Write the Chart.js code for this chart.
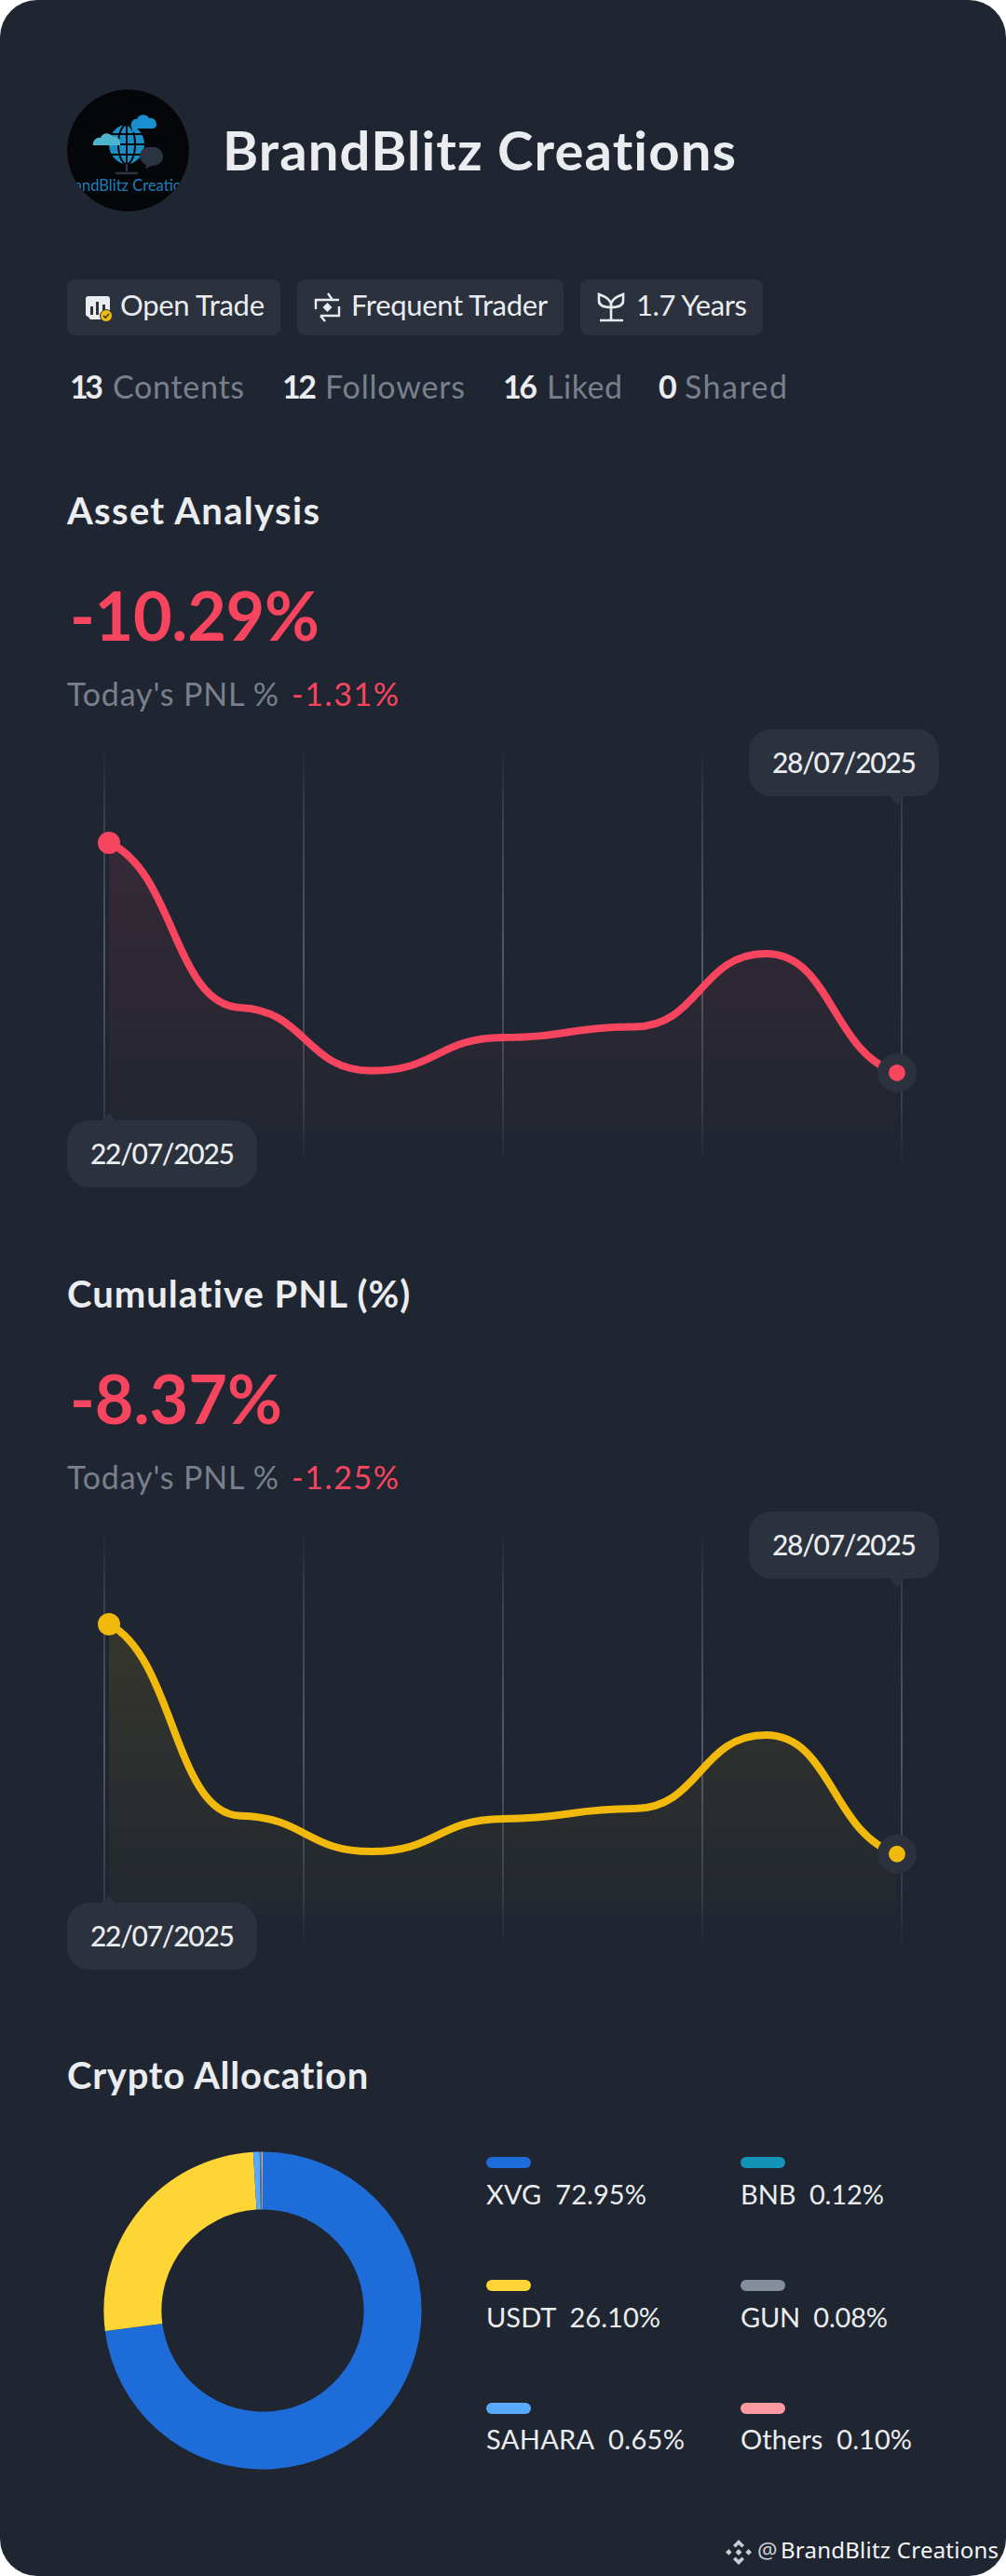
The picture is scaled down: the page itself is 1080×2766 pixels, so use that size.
<!DOCTYPE html>
<html><head><meta charset="utf-8">
<script src="https://cdn.jsdelivr.net/npm/chart.js@4"></script>
<style>
html,body{margin:0;padding:0;background:#fff;}
#card{position:relative;width:1080px;height:2766px;background:#1f2631;border-radius:40px;overflow:hidden;font-family:Lato,sans-serif;}
.t{position:absolute;white-space:nowrap;line-height:normal;}
.box{position:absolute;background:#2b313d;}
canvas{position:absolute;display:block;}
svg{position:absolute;overflow:visible;}
</style></head><body>
<div id="card"></div>
<script>
const dates=["22/07/2025","23/07/2025","24/07/2025","25/07/2025","26/07/2025","27/07/2025","28/07/2025"];
const assetValues=[0,-7.37,-10.2,-8.71,-8.23,-4.96,-10.29];
const cumulativeValues=[0,-6.98,-8.28,-7.09,-6.72,-4.04,-8.37];
const gridTicks=[-0.0355,1.482,3,4.518,6.0355];
const allocLabels=["XVG","USDT","SAHARA","BNB","GUN","Others"];
const allocValues=[72.95,26.10,0.65,0.12,0.08,0.10];
const allocColors=["#1e6cd8","#fdd535","#5aa9fb","#1493b9","#848e9c","#ff9aa2"];
const RED="#f8455f",YEL="#f0b90b",WHITE="#eaecef",GREY="#79808c";
const card=document.getElementById('card');
const mctx=document.createElement('canvas').getContext('2d');
function txt(x,base,str,size,weight,color,w,fam){
  const f=fam||'Lato';const e=document.createElement('div');e.className='t';
  e.textContent=str;e.style.cssText=`left:${x}px;font:${weight} ${size}px ${f};color:${color};`;
  card.appendChild(e);
  mctx.font=`${weight} ${size}px ${f}`;
  const m=mctx.measureText(str);
  e.style.top=(base-m.fontBoundingBoxAscent)+'px';
  if(w){const cur=e.getBoundingClientRect().width;e.style.letterSpacing=((w-cur)/(str.length-1))+'px';}
  return e;
}
function box(x,y,w,h,r,c){const e=document.createElement('div');e.className='box';
  e.style.cssText=`left:${x}px;top:${y}px;width:${w}px;height:${h}px;border-radius:${r}px;`+(c?`background:${c};`:'');card.appendChild(e);return e;}
function svg(x,y,w,h,inner){const d=document.createElementNS('http://www.w3.org/2000/svg','svg');
  d.setAttribute('width',w);d.setAttribute('height',h);d.setAttribute('viewBox',`0 0 ${w} ${h}`);
  d.style.left=x+'px';d.style.top=y+'px';d.innerHTML=inner;card.appendChild(d);return d;}

// header
svg(72,96,131,131,`<defs><clipPath id="av"><circle cx="65.5" cy="65.5" r="65.5"/></clipPath></defs>
<g clip-path="url(#av)"><circle cx="65.5" cy="65.5" r="65.5" fill="#04060a"/>
<ellipse cx="64" cy="59" rx="19" ry="21" fill="#1c8ec6"/>
<path d="M64 38V80M45 59H83M47 48H81M47 70H81" stroke="#04060a" stroke-width="2" fill="none"/>
<ellipse cx="64" cy="59" rx="9" ry="21" stroke="#04060a" stroke-width="2" fill="none"/>
<path d="M64 80V88M52 90H76" stroke="#2b3442" stroke-width="2.5"/>
<path d="M28 60c-1-4 3-9 8-8c2-6 10-6 13-1c5-1 9 3 8 9z" fill="#4db5cb"/>
<path d="M69 39c-1-4 3-8 6-7c2-6 11-6 13-1c5-1 8 3 8 7c0 2-2 4-4 4H75l-5 5z" fill="#1a8fd0"/>
<path d="M78 72c0-7 6-11 12-10c7-1 13 4 13 10s-5 10-12 10l-7 3 1-4c-4-2-7-5-7-9z" fill="#2b3442"/>
<text x="65.5" y="109" text-anchor="middle" font-family="Lato" font-size="16.5" fill="#1f7fb8">BrandBlitz Creations</text></g>`);
txt(239,183,"BrandBlitz Creations",58,700,WHITE,552);

box(72,300,229,60,8);box(319,300,286,60,8);box(623,300,196,60,8);
txt(129,339,"Open Trade",31,400,WHITE,155);
txt(377,339,"Frequent Trader",31,400,WHITE,211);
txt(683,339,"1.7 Years",31,400,WHITE,119);
svg(92,317,28,30,`<rect x="0" y="1" width="26" height="22" rx="3" fill="#eaecef"/><path d="M0 20L5 26H17V20Z" fill="#eaecef"/>
<rect x="5" y="12" width="3" height="9" fill="#2b313d"/><rect x="11" y="7" width="3" height="14" fill="#2b313d"/><rect x="18" y="10" width="3" height="7" fill="#2b313d"/>
<circle cx="22" cy="22" r="6.5" fill="#f0b90b" stroke="#2b313d" stroke-width="1"/><path d="M19 22l2.2 2.2L25 20" stroke="#2b313d" stroke-width="1.6" fill="none"/>`);
svg(338,314,27,32,`<path d="M1 18V8H26M14 1L19 8M26 15V25H6M6 25L11 31" stroke="#eaecef" stroke-width="2.4" fill="none"/><path d="M13.5 11l5 5-5 5-5-5z" fill="#eaecef"/>`);
svg(642,315,28,30,`<path d="M14 28V13C14 7 9 4 1 1V8C1 13 7 15 14 15C21 15 27 13 27 8V1C19 4 14 7 14 13M2 29H27" stroke="#eaecef" stroke-width="2.6" fill="none"/>`);

[[75,"13",121,"Contents",141,36],[303,"12",349,"Followers",150,37],[540,"16",587,"Liked",81,37],[707,"0",735,"Shared",110,null]].forEach(s=>{
  txt(s[0],428,s[1],34,700,WHITE,s[5]);txt(s[2],428,s[3],34,400,GREY,s[4]);
});

function section(dy,title,tw,big,bw,today,tdw){
  txt(72,563+dy,title,40,700,WHITE,tw);
  txt(75,688+dy,big,72,700,RED,bw);
  txt(72,758+dy,"Today's PNL %",34,400,GREY,227);
  txt(313,758+dy,today,34,400,RED,tdw);
}
section(0,"Asset Analysis",271,"-10.29%",268,"-1.31%",115);
section(841,"Cumulative PNL (%)",369,"-8.37%",228,"-1.25%",115);

// Shapes the curve: long handles with nearly level tangents, as in the reference's smoothing.
const softTangents={id:'softTangents',afterDatasetsUpdate(chart){
  const meta=chart.getDatasetMeta(0);const p=meta.data;
  meta.dataset.updateControlPoints(chart.chartArea,'x');
  const sec=[];for(let i=0;i<p.length-1;i++)sec.push((p[i+1].y-p[i].y)/(p[i+1].x-p[i].x));
  const m=p.map((_,i)=>{
    if(i===0)return 0.35*sec[0];
    if(i===p.length-1)return 0.35*sec[i-1];
    if(sec[i-1]*sec[i]<=0)return 0;
    return 0.08*Math.sign(sec[i])*Math.min(Math.abs(sec[i-1]),Math.abs(sec[i]));
  });
  p.forEach((pt,i)=>{
    const hPrev=i>0?(pt.x-p[i-1].x)/2:0,hNext=i<p.length-1?(p[i+1].x-pt.x)/2:0;
    pt.cp1x=pt.x-hPrev;pt.cp1y=pt.y-m[i]*hPrev;
    pt.cp2x=pt.x+hNext;pt.cp2y=pt.y+m[i]*hNext;
  });
}};

function lineChart(dy,id,values,color,rgb,yMax,yMin,fillBase){
  const c=document.createElement('canvas');c.id=id;c.width=936;c.height=457;
  c.style.cssText=`left:72px;top:${799+dy}px;width:936px;height:457px;`;card.appendChild(c);
  const n=values.length;
  new Chart(c,{type:'line',plugins:[softTangents],
    data:{datasets:[{label:id,data:values.map((v,i)=>({x:i,y:v})),borderColor:color,borderWidth:8,
      cubicInterpolationMode:'monotone',clip:false,
      fill:{value:fillBase},
      backgroundColor:(ctx)=>{const a=ctx.chart.chartArea;if(!a)return 'transparent';
        const g=ctx.chart.ctx.createLinearGradient(0,a.top+106,0,a.top+418);
        g.addColorStop(0,`rgba(${rgb},0.11)`);g.addColorStop(1,`rgba(${rgb},0.015)`);return g;},
      pointRadius:(ctx)=>ctx.dataIndex===0?12:(ctx.dataIndex===n-1?15:0),
      pointBorderWidth:(ctx)=>ctx.dataIndex===n-1?12:0,
      pointBackgroundColor:color,
      pointBorderColor:(ctx)=>ctx.dataIndex===n-1?'#2b313d':color,
      pointHoverRadius:0}]},
    options:{responsive:false,animation:false,events:[],
      layout:{autoPadding:false,padding:{left:40,right:40,top:0,bottom:0}},
      plugins:{legend:{display:false},tooltip:{enabled:false}},
      scales:{
        x:{type:'linear',min:gridTicks[0],max:gridTicks[gridTicks.length-1],
          afterBuildTicks:(ax)=>{ax.ticks=gridTicks.map(v=>({value:v}));},
          ticks:{display:false},border:{display:false},
          grid:{drawTicks:false,lineWidth:2,color:(ctx)=>{const a=ctx.chart.chartArea;if(!a)return 'transparent';
            const g=ctx.chart.ctx.createLinearGradient(0,a.top,0,a.bottom);
            g.addColorStop(0,'rgba(90,98,112,0)');g.addColorStop(0.15,'rgba(90,98,112,0.4)');g.addColorStop(0.5,'rgba(90,98,112,0.85)');g.addColorStop(0.85,'rgba(90,98,112,0.4)');g.addColorStop(1,'rgba(90,98,112,0)');return g;}}},
        y:{display:false,min:yMin,max:yMax}
      }}});
  // date bubbles
  box(804,783+dy,204,72,24);svg(955,855+dy,16,10,`<path d="M0 0H16L9 8.5Q8 9.5 7 8.5Z" fill="#2b313d"/>`);
  txt(829,830+dy,dates[n-1],30,500,WHITE,155);
  box(72,1203+dy,204,72,24);svg(109,1195+dy,16,9,`<path d="M0 9H16L9 .8Q8 -.2 7 .8Z" fill="#2b313d"/>`);
  txt(97,1250+dy,dates[0],30,500,WHITE,155);
}
lineChart(0,'asset',assetValues,RED,'246,70,93',4.417,-14.625,-13);
lineChart(840,'cumulative',cumulativeValues,YEL,'240,185,11',3.56,-11.94,-10.59);

txt(72,2243,"Crypto Allocation",40,700,WHITE,324);
const dc=document.createElement('canvas');dc.id='allocation';dc.width=344;dc.height=344;
dc.style.cssText='left:110px;top:2309px;width:344px;height:344px;';card.appendChild(dc);
new Chart(dc,{type:'doughnut',data:{labels:allocLabels,datasets:[{data:allocValues,backgroundColor:allocColors,borderWidth:0,radius:170.6,cutout:109.5}]},
  options:{responsive:false,animation:false,events:[],plugins:{legend:{display:false},tooltip:{enabled:false}}}});

const colX=[522,795],rowY=[2316,2448,2580],baseY=[2367,2499,2630];
const labW=[172,187,213,154,158,184];
allocLabels.forEach((l,i)=>{const cx=colX[i<3?0:1],r=i%3;
  box(cx,rowY[r],48,12,6,allocColors[i]);
  txt(cx,baseY[r],l+"\u00a0 "+allocValues[i].toFixed(2)+"%",29,400,WHITE,labW[i]);
});

svg(779,2727,28,27,`<g fill="#c9ccd1"><path d="M14 0l6 6-2.6 2.6L14 5.2l-3.4 3.4L8 6z"/><path d="M14 27l-6-6 2.6-2.6L14 21.8l3.4-3.4L20 21z"/><path d="M14 10l3.5 3.5L14 17l-3.5-3.5z"/><path d="M3.4 10l3.2 3.4L3.4 16.8 0 13.5z"/><path d="M24.6 10l3.4 3.4-3.4 3.4-3.2-3.4z"/></g>`);
txt(813,2747,"@",24,400,"#c9ccd1",null,"'Noto Sans'");
txt(838,2747,"BrandBlitz Creations",24,400,"#f5f5f5",234,"'Noto Sans'");
</script></body></html>
